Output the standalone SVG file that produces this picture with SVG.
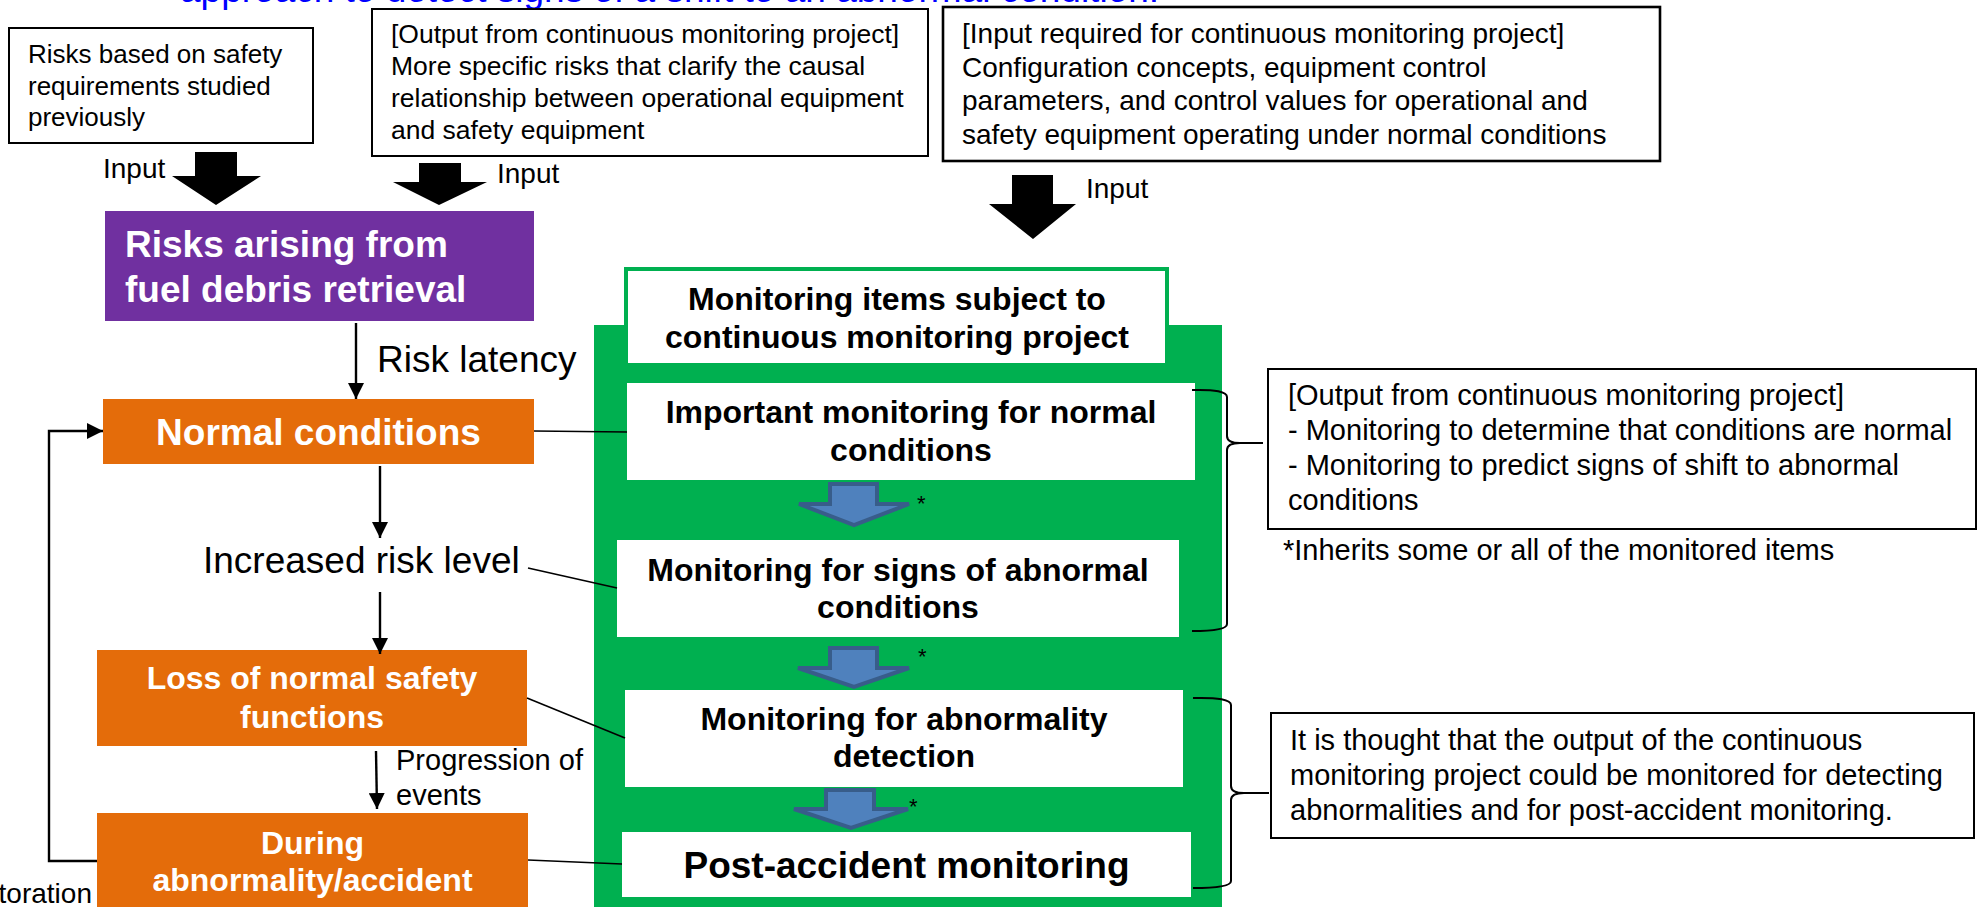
<svg xmlns="http://www.w3.org/2000/svg" width="1980" height="907" viewBox="0 0 1980 907">
  <defs>
    <style>
      text { font-family: "Liberation Sans", Arial, sans-serif; }
      .note { fill: #ffffff; stroke: #000000; stroke-width: 2; }
      .note-t { font-size: 26.5px; fill: #000000; }
      .lbl { font-size: 28px; fill: #000000; }
      .big { font-size: 37px; fill: #000000; }
      .mid { font-size: 29px; fill: #000000; }
      .wb { font-weight: bold; fill: #ffffff; text-anchor: middle; }
      .kb { font-weight: bold; fill: #000000; text-anchor: middle; }
      .orange { fill: #E46C0A; }
      .item { fill: #ffffff; }
      .link { stroke: #000000; stroke-width: 1.6; fill: none; }
      .flow { stroke: #000000; stroke-width: 2.4; fill: none; }
      .block { fill: #000000; }
      .inherit { fill: #4F81BD; stroke: #385D8A; stroke-width: 4; stroke-linejoin: miter; }
      .brace { fill: none; stroke: #000000; stroke-width: 2; }
      .star { font-size: 22px; fill: #000000; }
    </style>
    <marker id="head" viewBox="0 0 16 16" refX="16" refY="8" markerWidth="16" markerHeight="16" markerUnits="userSpaceOnUse" orient="auto">
      <path d="M0,0 L16,8 L0,16 Z" fill="#000000"/>
    </marker>
  </defs>

  <rect width="1980" height="907" fill="#ffffff"/>

  <!-- heading line, partly above the top edge -->
  <text id="heading" x="180" y="2" style="font-size:37px; fill:#0000FF;">approach to detect signs of a shift to an abnormal condition.</text>

  <!-- input sources -->
  <g id="prior-risks">
    <rect class="note" x="9" y="28" width="304" height="115"/>
    <text class="note-t" x="28" y="63" style="font-size:26px">Risks based on safety</text>
    <text class="note-t" x="28" y="94.5" style="font-size:26px">requirements studied</text>
    <text class="note-t" x="28" y="126" style="font-size:26px">previously</text>
  </g>

  <g id="project-output">
    <rect class="note" x="372" y="9" width="556" height="147"/>
    <text class="note-t" x="391" y="43">[Output from continuous monitoring project]</text>
    <text class="note-t" x="391" y="75">More specific risks that clarify the causal</text>
    <text class="note-t" x="391" y="107">relationship between operational equipment</text>
    <text class="note-t" x="391" y="139">and safety equipment</text>
  </g>

  <g id="project-input">
    <rect class="note" x="943" y="7" width="717" height="154" style="stroke-width:2.6"/>
    <text class="note-t" x="962" y="43" style="font-size:28px">[Input required for continuous monitoring project]</text>
    <text class="note-t" x="962" y="77" style="font-size:28px">Configuration concepts, equipment control</text>
    <text class="note-t" x="962" y="110" style="font-size:28px">parameters, and control values for operational and</text>
    <text class="note-t" x="962" y="144" style="font-size:28px">safety equipment operating under normal conditions</text>
  </g>

  <!-- risk states -->
  <g id="fuel-debris-risks">
    <rect x="105" y="211" width="429" height="110" fill="#7030A0"/>
    <text x="125" y="257" style="font-size:37px; font-weight:bold; fill:#ffffff;">Risks arising from</text>
    <text x="125" y="302" style="font-size:37px; font-weight:bold; fill:#ffffff;">fuel debris retrieval</text>
  </g>

  <g id="normal-conditions">
    <rect class="orange" x="103" y="399" width="431" height="65"/>
    <text class="wb" x="318.5" y="445" style="font-size:37px">Normal conditions</text>
  </g>

  <g id="loss-of-safety">
    <rect class="orange" x="97" y="650" width="430" height="96"/>
    <text class="wb" x="312" y="689" style="font-size:32px">Loss of normal safety</text>
    <text class="wb" x="312" y="728" style="font-size:32px">functions</text>
  </g>

  <g id="abnormality-accident">
    <rect class="orange" x="97" y="813" width="431" height="100"/>
    <text class="wb" x="312.5" y="854" style="font-size:32px">During</text>
    <text class="wb" x="312.5" y="891" style="font-size:32px">abnormality/accident</text>
  </g>

  <!-- monitoring items panel -->
  <g id="monitoring-panel">
    <rect x="594" y="325" width="628" height="590" fill="#00B050"/>
    <rect x="626" y="269" width="541" height="96" fill="#ffffff" stroke="#00B050" stroke-width="4"/>
    <text class="kb" x="897" y="310" style="font-size:32px">Monitoring items subject to</text>
    <text class="kb" x="897" y="348" style="font-size:32px">continuous monitoring project</text>
  </g>

  <g id="normal-monitoring">
    <rect class="item" x="627" y="383" width="568" height="97"/>
    <text class="kb" x="911" y="423" style="font-size:32px">Important monitoring for normal</text>
    <text class="kb" x="911" y="461" style="font-size:32px">conditions</text>
  </g>

  <g id="signs-monitoring">
    <rect class="item" x="617" y="540" width="562" height="97"/>
    <text class="kb" x="898" y="581" style="font-size:32px">Monitoring for signs of abnormal</text>
    <text class="kb" x="898" y="618" style="font-size:32px">conditions</text>
  </g>

  <g id="detection-monitoring">
    <rect class="item" x="625" y="690" width="558" height="97"/>
    <text class="kb" x="904" y="730" style="font-size:32px">Monitoring for abnormality</text>
    <text class="kb" x="904" y="767" style="font-size:32px">detection</text>
  </g>

  <g id="post-accident-monitoring">
    <rect class="item" x="622" y="832" width="569" height="65"/>
    <text class="kb" x="906.5" y="878" style="font-size:37px">Post-accident monitoring</text>
  </g>

  <!-- notes on the right -->
  <g id="output-note">
    <rect class="note" x="1268" y="369" width="708" height="160"/>
    <text class="mid" x="1288" y="405">[Output from continuous monitoring project]</text>
    <text class="mid" x="1288" y="440">- Monitoring to determine that conditions are normal</text>
    <text class="mid" x="1288" y="475">- Monitoring to predict signs of shift to abnormal</text>
    <text class="mid" x="1288" y="510">conditions</text>
  </g>

  <g id="inherit-note">
    <text class="mid" x="1283" y="560">*Inherits some or all of the monitored items</text>
  </g>

  <g id="detection-note">
    <rect class="note" x="1271" y="713" width="703" height="125"/>
    <text class="mid" x="1290" y="750">It is thought that the output of the continuous</text>
    <text class="mid" x="1290" y="785">monitoring project could be monitored for detecting</text>
    <text class="mid" x="1290" y="820">abnormalities and for post-accident monitoring.</text>
  </g>

  <!-- connectors -->
  <g id="connectors">
    <!-- input block arrows -->
    <polygon class="block" points="195,152 237,152 237,176 261,176 216,205 172,176 195,176"/>
    <polygon class="block" points="419,163 461,163 461,182 487,182 439,205 393,182 419,182"/>
    <polygon class="block" points="1012,175 1053,175 1053,204 1076,204 1033,239 989,204 1012,204"/>
    <text class="lbl" x="103" y="178">Input</text>
    <text class="lbl" x="497" y="183">Input</text>
    <text class="lbl" x="1086" y="198">Input</text>

    <!-- state progression -->
    <line class="flow" x1="356" y1="323" x2="356" y2="399" marker-end="url(#head)"/>
    <text class="big" x="377" y="372">Risk latency</text>
    <line class="flow" x1="380" y1="466" x2="380" y2="538" marker-end="url(#head)"/>
    <text class="big" x="203" y="573">Increased risk level</text>
    <line class="flow" x1="380" y1="592" x2="380" y2="654" marker-end="url(#head)"/>
    <line class="flow" x1="376" y1="751" x2="377" y2="809" marker-end="url(#head)"/>
    <text class="mid" x="396" y="770">Progression of</text>
    <text class="mid" x="396" y="805">events</text>

    <!-- restoration loop -->
    <polyline class="flow" points="97,861 49,861 49,431 103,431" marker-end="url(#head)"/>
    <text class="lbl" x="92" y="903" text-anchor="end">toration</text>

    <!-- state to monitoring item links -->
    <line class="link" x1="534" y1="431" x2="627" y2="432"/>
    <line class="link" x1="528" y1="568" x2="617" y2="588"/>
    <line class="link" x1="527" y1="698" x2="625" y2="738"/>
    <line class="link" x1="528" y1="860" x2="622" y2="864"/>

    <!-- inheritance arrows between monitoring items -->
    <polygon class="inherit" points="830,484 877,484 877,504 909,504 854,525 799,504 830,504"/>
    <polygon class="inherit" points="830,648 877,648 877,668 909,668 854,687 798,668 830,668"/>
    <polygon class="inherit" points="826,790 874,790 874,809 908,809 851,828 794,809 826,809"/>
    <text class="star" x="917" y="511">*</text>
    <text class="star" x="918" y="664">*</text>
    <text class="star" x="909" y="814">*</text>

    <!-- braces to notes -->
    <path class="brace" d="M1192,390 Q1227,389 1227,397 L1227,436 Q1227,443 1240,443 L1263,443 M1240,443 Q1227,443 1227,450 L1227,624 Q1227,631 1192,631"/>
    <path class="brace" d="M1193,698 Q1231,697 1231,705 L1231,786 Q1231,793 1244,793 L1269,793 M1244,793 Q1231,793 1231,800 L1231,881 Q1231,888 1193,888"/>
  </g>
</svg>
